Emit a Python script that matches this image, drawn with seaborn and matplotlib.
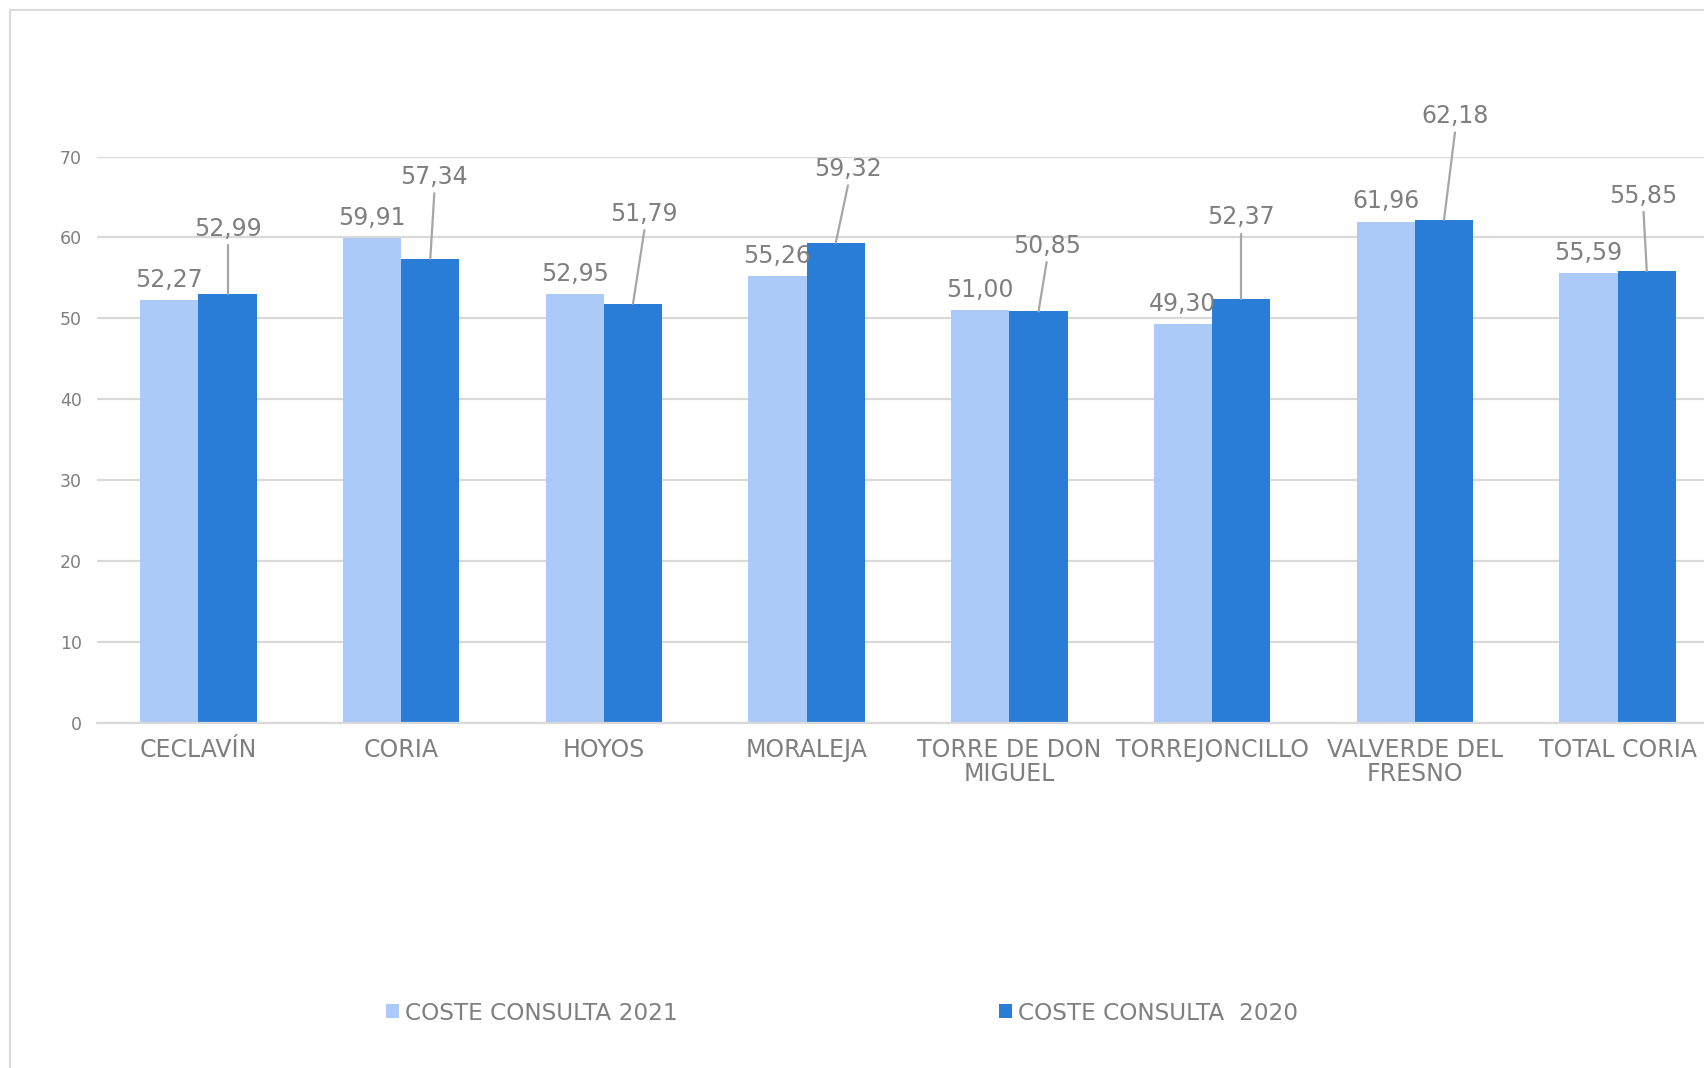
import pandas as pd
import numpy as np
import matplotlib
matplotlib.use("Agg")
import matplotlib.pyplot as plt
from matplotlib.patches import Rectangle
import seaborn as sns

# --- data ---
zonas = ["CECLAVÍN", "CORIA", "HOYOS", "MORALEJA", "TORRE DE DON\nMIGUEL",
         "TORREJONCILLO", "VALVERDE DEL\nFRESNO", "TOTAL CORIA"]
coste_2021 = [52.27, 59.91, 52.95, 55.26, 51.00, 49.30, 61.96, 55.59]
coste_2020 = [52.99, 57.34, 51.79, 59.32, 50.85, 52.37, 62.18, 55.85]
series = ["COSTE CONSULTA 2021", "COSTE CONSULTA  2020"]
yticks = [0, 10, 20, 30, 40, 50, 60, 70]

# label layout for the 2020 series (moved labels with leader lines)
lab_dx_2020 = [0.0, 0.02, 0.056, 0.06, 0.04, 0.0, 0.054, -0.016]
lab_dy_2020 = [8.1, 10.1, 11.1, 9.1, 8.1, 10.1, 12.8, 9.3]

GRAY_TXT = "#7f7f7f"
GRID = "#d9d9d9"
colors = {series[0]: "#abcaf7", series[1]: "#2a7dd6"}

df = pd.DataFrame({
    "zona": zonas * 2,
    "coste": coste_2021 + coste_2020,
    "serie": [series[0]] * len(zonas) + [series[1]] * len(zonas),
})

sns.set_style("white")
plt.rcParams["font.family"] = ["DejaVu Sans"]

W, H = 1704, 1068
fig = plt.figure(figsize=(W / 100, H / 100), dpi=100)
ax = fig.add_axes([97 / W, 1 - 722.7 / H, (1719 - 97) / W, (722.7 - 156.5) / H])

sns.barplot(data=df, x="zona", y="coste", hue="serie", hue_order=series,
            order=zonas, palette=colors, saturation=1, width=0.575,
            linewidth=0, ax=ax)

ax.set_xlim(-0.5, len(zonas) - 0.5)
ax.set_ylim(0, 70)
ax.set_yticks(yticks)
ax.set_xlabel("")
ax.set_ylabel("")
for s in ax.spines.values():
    s.set_visible(False)
ax.grid(axis="y", color=GRID, linewidth=1.6)
ax.set_axisbelow(True)
ax.axhline(0, color=GRID, linewidth=1.6, clip_on=False)

ax.tick_params(axis="y", length=0, pad=11, labelsize=12.5, labelcolor=GRAY_TXT)
ax.tick_params(axis="x", which="major", length=0, pad=11, labelsize=17,
               labelcolor=GRAY_TXT)
ax.set_xticks(np.arange(-0.5, len(zonas)), minor=True)
ax.tick_params(axis="x", which="minor", length=5, width=1.4, color=GRID)
for t in ax.get_xticklabels():
    t.set_linespacing(1.0)

fmt = lambda v: f"{v:.2f}".replace(".", ",")

# 2021 labels: centred above bars
for p, v in zip(ax.containers[0], coste_2021):
    bx = p.get_x() + p.get_width() / 2
    ax.annotate(fmt(v), (bx, v), xytext=(0, 14.5), textcoords="offset points",
                ha="center", va="center", fontsize=17, color=GRAY_TXT,
                annotation_clip=False)

# 2020 labels: lifted with leader lines
for p, v, dx, dy in zip(ax.containers[1], coste_2020, lab_dx_2020, lab_dy_2020):
    bx = p.get_x() + p.get_width() / 2
    lx, ly = bx + dx, v + dy
    ax.text(lx, ly, fmt(v), ha="center", va="center", fontsize=17,
            color=GRAY_TXT, clip_on=False)
    ax.plot([lx, bx], [ly - 2.0, v], color="#a6a6a6", linewidth=1.6,
            clip_on=False, zorder=3)

handles, labels = ax.get_legend_handles_labels()
ax.get_legend().remove()
fig.legend(handles, labels, loc="center left", bbox_to_anchor=(386 / W, 55 / H),
           ncol=2, frameon=False, fontsize=16.7, labelcolor=GRAY_TXT,
           handlelength=0.57, handleheight=0.57, handletextpad=0.26,
           columnspacing=13.85, borderpad=0, borderaxespad=0)

# chart-area border (left and top visible, rest cut off)
fig.add_artist(Rectangle((10 / W, -0.1), 1.2, 1.1 - 10 / H, transform=fig.transFigure,
                         fill=False, edgecolor=GRID, linewidth=1.5))

fig.savefig("out.png", dpi=100)
